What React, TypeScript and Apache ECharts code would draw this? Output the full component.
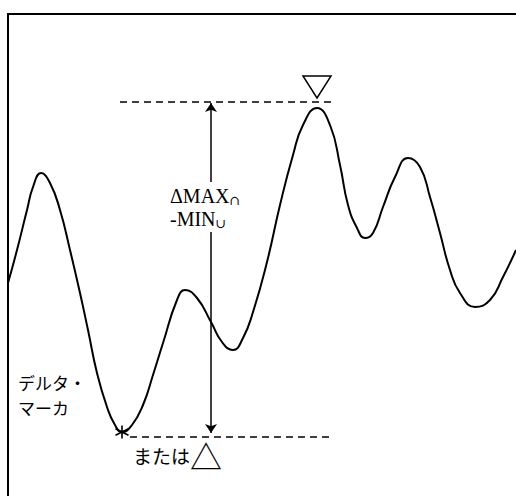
import React, { useEffect, useRef } from "react";
import * as echarts from "echarts";

// Waveform sample positions (x) and levels (y)
const waveX = [0, 9, 19, 25, 33, 42, 52, 62, 72, 80, 89, 99, 107, 114, 124, 135, 145, 155, 169, 177, 189, 203, 214, 225, 235, 245, 259, 272, 285, 295, 309, 322, 332, 340, 349, 357, 365, 375, 387, 400, 412, 422, 432, 442, 452, 467, 482, 495, 508];
const waveY = [213, 246, 286, 309, 323, 313, 286, 246, 203, 166, 123, 89, 71, 64, 71, 91, 121, 153, 196, 206, 198, 174, 154, 146, 158, 184, 234, 291, 341, 371, 388, 371, 331, 291, 268, 258, 263, 289, 319, 338, 329, 299, 263, 226, 203, 189, 196, 219, 246];

// Marker positions
const maxPoint = [309, 388];
const minPoint = [114, 64];
const maxLineY = 394.5;
const minLineY = 59;
const maxLineX = [112, 325];
const minLineX = [122, 325];
const deltaX = 203;
const deltaRange = [63, 393];

const xRange = [0, 508];
const yRange = [0, 482];

const labelDelta = ["ΔMAX", "∩", "-MIN", "∪"];
const labelMarker = ["デルタ・", "マーカ"];
const labelOr = ["または", "△"];

export default function App() {
  const ref = useRef<HTMLDivElement>(null);
  useEffect(() => {
    if (!ref.current) return;
    const chart = echarts.init(ref.current, null, { renderer: "svg" });
    const data = waveX.map((x, i) => [x, waveY[i]]);
    chart.setOption({
      animation: false,
      backgroundColor: "#fff",
      grid: { left: 8, top: 14, right: 0, bottom: 0 },
      xAxis: {
        type: "value",
        min: xRange[0],
        max: xRange[1],
        position: "top",
        axisLine: { show: true, onZero: false, lineStyle: { color: "#000", width: 2 } },
        axisTick: { show: false },
        axisLabel: { show: false },
        splitLine: { show: false },
      },
      yAxis: {
        type: "value",
        min: yRange[0],
        max: yRange[1],
        axisLine: { show: true, onZero: false, lineStyle: { color: "#000", width: 2 } },
        axisTick: { show: false },
        axisLabel: { show: false },
        splitLine: { show: false },
      },
      series: [
        {
          type: "line",
          data,
          smooth: 0.5,
          showSymbol: false,
          symbol: "none",
          lineStyle: { color: "#000", width: 2 },
          z: 3,
          markPoint: {
            silent: true,
            label: { show: false },
            data: [
              {
                coord: maxPoint,
                symbol: "triangle",
                symbolRotate: 180,
                symbolSize: [28, 22],
                symbolOffset: [0, -21],
                itemStyle: { color: "#fff", borderColor: "#000", borderWidth: 1.5 },
              },
              {
                coord: minPoint,
                symbol: "path://M10,0L10,20M1.3,5L18.7,15M1.3,15L18.7,5",
                symbolSize: 13,
                itemStyle: { color: "none", borderColor: "#000", borderWidth: 1.6 },
              },
            ],
          },
        },
        {
          type: "line",
          data: [],
          markLine: {
            silent: true,
            symbol: ["none", "none"],
            label: { show: false },
            lineStyle: { color: "#000", width: 1.5, type: [7, 5] },
            data: [
              [{ coord: [maxLineX[0], maxLineY] }, { coord: [maxLineX[1], maxLineY] }],
              [{ coord: [minLineX[0], minLineY] }, { coord: [minLineX[1], minLineY] }],
            ],
          },
        },
        {
          type: "line",
          data: [],
          markLine: {
            silent: true,
            symbol: ["arrow", "arrow"],
            symbolSize: 9,
            label: { show: false },
            lineStyle: { color: "#000", width: 1.5, type: "solid" },
            itemStyle: { color: "#000" },
            data: [[{ coord: [deltaX, deltaRange[1]] }, { coord: [deltaX, deltaRange[0]] }]],
          },
        },
      ],
      graphic: [
        {
          type: "text",
          x: 168,
          y: 182,
          z: 10,
          style: {
            text: `{m|${labelDelta[0]}}{s|${labelDelta[1]}}\n{m|${labelDelta[2]}}{s|${labelDelta[3]}}`,
            backgroundColor: "#fff",
            padding: [2, 2],
            rich: {
              m: { fontFamily: "Liberation Serif", fontSize: 20, lineHeight: 23, fill: "#000" },
              s: { fontFamily: "DejaVu Serif", fontSize: 13, lineHeight: 23, fill: "#000", verticalAlign: "bottom" },
            },
          },
        },
        {
          type: "text",
          x: 18,
          y: 370,
          z: 10,
          style: {
            text: labelMarker.join("\n"),
            fontFamily: "Noto Sans CJK JP",
            fontSize: 17,
            lineHeight: 25,
            fill: "#000",
          },
        },
        {
          type: "text",
          x: 133,
          y: 455,
          z: 10,
          style: {
            text: `{a|${labelOr[0]}}{b|${labelOr[1]}}`,
            verticalAlign: "middle",
            rich: {
              a: { fontFamily: "Noto Sans CJK JP", fontSize: 19, fill: "#000", verticalAlign: "middle" },
              b: { fontFamily: "Noto Sans CJK JP", fontSize: 32, fill: "#000", verticalAlign: "middle" },
            },
          },
        },
      ],
    });
    return () => chart.dispose();
  }, []);
  return <div ref={ref} style={{ width: 516, height: 496, position: "absolute", left: 0, top: 0 }} />;
}
